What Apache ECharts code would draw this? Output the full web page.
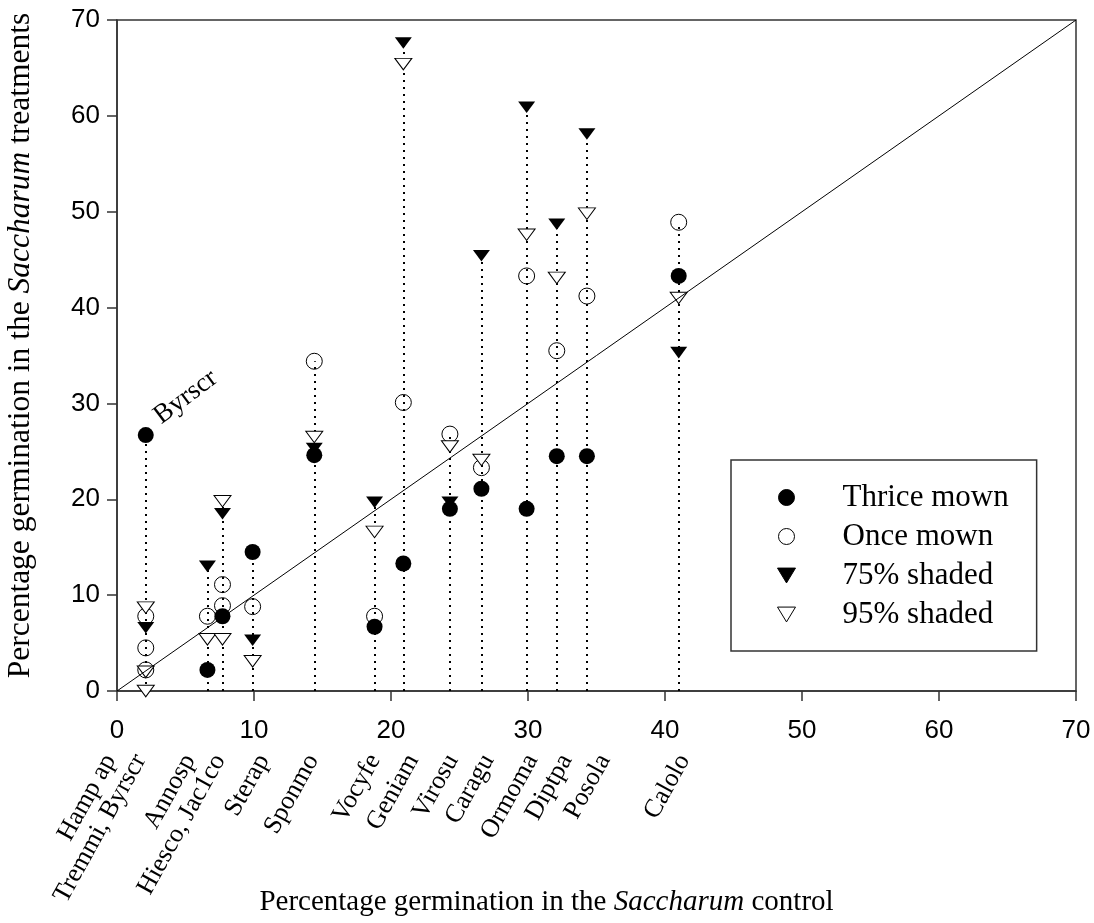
<!DOCTYPE html>
<html>
<head>
<meta charset="utf-8">
<script src="https://cdn.jsdelivr.net/npm/echarts@6/dist/echarts.min.js"></script>
<style>
html,body{margin:0;padding:0;background:#fff;}
#main{width:1094px;height:923px;}
</style>
</head>
<body>
<div id="main"></div>
<script>
// ---- data ----
const species   = ['Hamp ap','Tremmi','Byrscr','Annosp','Hiesco','Jac1co','Sterap','Sponmo','Vocyfe','Geniam','Virosu','Caragu','Ormoma','Diptpa','Posola','Calolo'];
const controlX  = [2.1, 2.1, 2.1, 6.6, 7.7, 7.7, 9.9, 14.4, 18.8, 20.9, 24.3, 26.6, 29.9, 32.1, 34.3, 41.0];
const thriceMown = [null, null, 26.7, 2.2, 7.8, null, 14.5, 24.6, 6.7, 13.3, 19.0, 21.1, 19.0, 24.5, 24.5, 43.3];
const onceMown   = [4.5, 2.2, 7.8, 7.8, 11.1, 8.9, 8.8, 34.4, 7.8, 30.1, 26.8, 23.3, 43.3, 35.5, 41.2, 48.9];
const shaded75   = [6.6, null, null, 13.0, 18.5, null, 5.3, 25.3, 19.7, 67.6, 19.7, 45.4, 60.9, 48.7, 58.1, 35.3];
const shaded95   = [8.7, 0.0, 2.0, 5.4, 19.8, 5.4, 3.1, 26.5, 16.6, 65.4, 25.5, 24.1, 47.6, 43.1, 49.8, 41.0];
const seriesNames = ['Thrice mown', 'Once mown', '75% shaded', '95% shaded'];
const axisTicks  = [0, 10, 20, 30, 40, 50, 60, 70];
// species names written under the x axis, and where (in x units) each one ends
const speciesLabels = ['Hamp ap', 'Tremmi, Byrscr', 'Annosp', 'Hiesco, Jac1co', 'Sterap', 'Sponmo', 'Vocyfe', 'Geniam', 'Virosu', 'Caragu', 'Ormoma', 'Diptpa', 'Posola', 'Calolo'];
const speciesLabelX = [-1.8, 0.4, 4.0, 6.2, 9.4, 13.0, 17.5, 20.3, 23.2, 25.8, 29.0, 31.5, 34.3, 40.1];
const pointLabel = { text: 'Byrscr', x: 2.1, y: 26.7 };
const oneToOne = [[0, 0], [70, 70]];

// ---- build ----
const toPts = arr => controlX.map((x, i) => arr[i] == null ? null : [x, arr[i]]).filter(Boolean);
const tops = {};
controlX.forEach((x, i) => {
  const vals = [thriceMown[i], onceMown[i], shaded75[i], shaded95[i]].filter(v => v != null);
  const m = Math.max(...vals);
  tops[x] = Math.max(tops[x] == null ? -Infinity : tops[x], m);
});
const dropData = Object.keys(tops).map(k => ({ coords: [[+k, 0], [+k, tops[k]]] }));

const serif = "'Liberation Serif', 'Times New Roman', serif";
const sans = "'Liberation Sans', Arial, sans-serif";
const axisColor = '#333';
const downTri = 'path://M0,0L17,0L8.5,14Z';
const axisMin = axisTicks[0], axisMax = axisTicks[axisTicks.length - 1], axisStep = axisTicks[1] - axisTicks[0];

const chart = echarts.init(document.getElementById('main'), null, { renderer: 'canvas' });
const option = {
  animation: false,
  backgroundColor: '#fff',
  grid: { left: 117, right: 18, top: 20, bottom: 232, show: true, borderColor: axisColor, borderWidth: 1.5, backgroundColor: 'transparent', outerBoundsMode: 'none', containLabel: false },
  xAxis: {
    type: 'value', min: axisMin, max: axisMax, interval: axisStep,
    axisLine: { show: true, onZero: false, lineStyle: { color: axisColor, width: 1.5 } },
    axisTick: { show: true, inside: false, length: 10, lineStyle: { color: axisColor, width: 1.5 } },
    axisLabel: { fontFamily: sans, fontSize: 26, color: '#000', margin: 27 },
    splitLine: { show: false },
    name: 'Percentage germination in the {i|Saccharum} control',
    nameLocation: 'middle', nameGap: 197,
    nameTextStyle: { fontFamily: serif, fontSize: 29, color: '#000', padding: [0, 100, 0, 0],
      rich: { i: { fontFamily: serif, fontSize: 29, fontStyle: 'italic', color: '#000' } } }
  },
  yAxis: {
    type: 'value', min: axisMin, max: axisMax, interval: axisStep,
    axisLine: { show: true, onZero: false, lineStyle: { color: axisColor, width: 1.5 } },
    axisTick: { show: true, inside: false, length: 10, lineStyle: { color: axisColor, width: 1.5 } },
    axisLabel: { fontFamily: sans, fontSize: 26, color: '#000', margin: 17 },
    splitLine: { show: false },
    name: 'Percentage germination in the {i|Saccharum} treatments',
    nameLocation: 'middle', nameGap: 80, nameRotate: 90,
    nameTextStyle: { fontFamily: serif, fontSize: 31.5, color: '#000', padding: [0, 0, 0, 20],
      rich: { i: { fontFamily: serif, fontSize: 31.5, fontStyle: 'italic', color: '#000' } } }
  },
  legend: {
    orient: 'vertical', left: 731, top: 460,
    padding: [22, 28, 21, 46],
    itemWidth: 18, itemHeight: 16, itemGap: 8,
    borderColor: axisColor, borderWidth: 1.5, backgroundColor: '#fff',
    selectedMode: false,
    itemStyle: { borderWidth: 1 },
    textStyle: { fontFamily: serif, fontSize: 31, color: '#000', lineHeight: 31, padding: [0, 0, 0, 42] },
    data: seriesNames
  },
  series: [
    {
      type: 'lines', coordinateSystem: 'cartesian2d', silent: true, z: 1,
      lineStyle: { color: '#000', width: 2, type: [2, 5], opacity: 1 },
      data: dropData
    },
    {
      name: seriesNames[0], type: 'scatter', z: 2, symbol: 'circle', symbolSize: 16,
      itemStyle: { color: '#000', borderColor: '#000', borderWidth: 0, opacity: 1 }, emphasis: { disabled: true },
      data: toPts(thriceMown)
    },
    {
      name: seriesNames[1], type: 'scatter', z: 3, symbol: 'circle', symbolSize: 16,
      itemStyle: { color: 'rgba(255,255,255,0)', borderColor: '#000', borderWidth: 1, opacity: 1 }, emphasis: { disabled: true },
      data: toPts(onceMown)
    },
    {
      name: seriesNames[2], type: 'scatter', z: 4, symbol: downTri, symbolKeepAspect: true, symbolSize: [17, 14],
      itemStyle: { color: '#000', borderColor: '#000', borderWidth: 0, opacity: 1 }, emphasis: { disabled: true },
      data: toPts(shaded75)
    },
    {
      name: seriesNames[3], type: 'scatter', z: 5, symbol: downTri, symbolKeepAspect: true, symbolSize: [17, 14],
      itemStyle: { color: '#fff', borderColor: '#000', borderWidth: 1, opacity: 1 }, emphasis: { disabled: true },
      data: toPts(shaded95)
    },
    {
      type: 'line', z: 6, symbol: 'none', silent: true,
      lineStyle: { color: '#000', width: 1 },
      data: oneToOne
    }
  ]
};
chart.setOption(option);

// species names under the x axis, and the point label
const graphics = [];
const baseY = chart.convertToPixel({ gridIndex: 0 }, [0, 0])[1];
const rot = 61 * Math.PI / 180;
speciesLabels.forEach((t, i) => {
  const px = chart.convertToPixel({ gridIndex: 0 }, [speciesLabelX[i], 0])[0];
  graphics.push({
    type: 'text', x: px + 30, y: baseY + 72, rotation: rot, silent: true,
    style: { text: t, font: "26px 'Liberation Serif'", fill: '#000', align: 'right', verticalAlign: 'bottom', lineHeight: 28 }
  });
});
const pp = chart.convertToPixel({ gridIndex: 0 }, [pointLabel.x, pointLabel.y]);
graphics.push({
  type: 'text', x: pp[0] + 40, y: pp[1] - 38, rotation: 37 * Math.PI / 180, silent: true,
  style: { text: pointLabel.text, font: "27px 'Liberation Serif'", fill: '#000', align: 'center', verticalAlign: 'middle' }
});
chart.setOption({ graphic: { elements: graphics } });
</script>
</body>
</html>
